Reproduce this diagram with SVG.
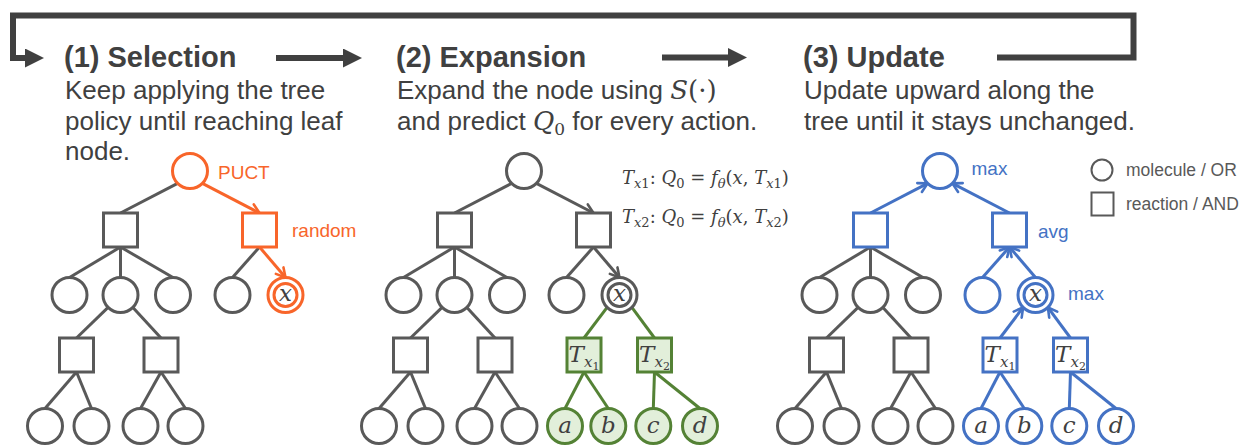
<svg xmlns="http://www.w3.org/2000/svg" width="1242" height="445" viewBox="0 0 1242 445">
<style>
.hdr{font-family:"Liberation Sans",Arial,sans-serif;font-weight:bold;font-size:29px;fill:#404040}
.desc{font-family:"Liberation Sans",Arial,sans-serif;font-size:26px;fill:#404040}
.lbl{font-family:"Liberation Sans",Arial,sans-serif;font-size:19px}
.leg{font-family:"Liberation Sans",Arial,sans-serif;font-size:17.5px;fill:#595959}
.m{font-family:"DejaVu Serif","Liberation Serif",serif}
.mi{font-family:"DejaVu Serif","Liberation Serif",serif;font-style:italic}
.nodeT{font-family:"DejaVu Serif","Liberation Serif",serif;font-style:italic;font-size:23px;text-anchor:middle;fill:#404040}
.g{fill:#fff;stroke:#595959;stroke-width:3}
.o{fill:#fff;stroke:#f8652a;stroke-width:3}
.gr{fill:#e2efda;stroke:#548235;stroke-width:3}
.b{fill:#fff;stroke:#4472c4;stroke-width:3}
.eg{stroke:#595959;stroke-width:3;fill:none}
.eo{stroke:#f8652a;stroke-width:3;fill:none}
.egr{stroke:#548235;stroke-width:3;fill:none}
.eb{stroke:#4472c4;stroke-width:3;fill:none}
.flow{stroke:#404040;stroke-width:6;fill:none}
</style>
<defs>
<marker id="ag" markerUnits="userSpaceOnUse" viewBox="0 0 14 14" refX="11" refY="7" markerWidth="14" markerHeight="14" orient="auto"><path d="M2,2 L11,7 L2,12" fill="none" stroke="#595959" stroke-width="2.6" stroke-linecap="round" stroke-linejoin="round"/></marker>
<marker id="ao" markerUnits="userSpaceOnUse" viewBox="0 0 14 14" refX="11" refY="7" markerWidth="14" markerHeight="14" orient="auto"><path d="M2,2 L11,7 L2,12" fill="none" stroke="#f8652a" stroke-width="2.6" stroke-linecap="round" stroke-linejoin="round"/></marker>
<marker id="ab" markerUnits="userSpaceOnUse" viewBox="0 0 14 14" refX="11" refY="7" markerWidth="14" markerHeight="14" orient="auto"><path d="M2,2 L11,7 L2,12" fill="none" stroke="#4472c4" stroke-width="2.6" stroke-linecap="round" stroke-linejoin="round"/></marker>
<marker id="big" markerUnits="userSpaceOnUse" viewBox="0 0 19 19" refX="0" refY="9.5" markerWidth="19" markerHeight="19" orient="auto"><path d="M0,0 L19,9.5 L0,19 Z" fill="#404040"/></marker>
</defs>

<!-- flow arrows -->
<g id="flow">
<path class="flow" d="M997,57.5 H1133.5 V15.5 H13 V58 H25" marker-end="url(#big)"/>
<path class="flow" d="M276,58 H343" marker-end="url(#big)"/>
<path class="flow" d="M662,57.5 H728" marker-end="url(#big)"/>
</g>

<!-- headings -->
<g id="step1-text">
<text class="hdr" x="64" y="67">(1) Selection</text>
<text class="desc" x="65" y="99">Keep applying the tree</text>
<text class="desc" x="65" y="129.5">policy until reaching leaf</text>
<text class="desc" x="65" y="160">node.</text>
</g>
<g id="step2-text">
<text class="hdr" x="396" y="67">(2) Expansion</text>
<text class="desc" x="397" y="99">Expand the node using <tspan class="mi">S</tspan><tspan class="m">(·)</tspan></text>
<text class="desc" x="397" y="129.5">and predict <tspan class="mi">Q</tspan><tspan class="m" font-size="17" dy="5">0</tspan><tspan dy="-5"> for every action.</tspan></text>
</g>
<g id="step3-text">
<text class="hdr" x="803" y="67">(3) Update</text>
<text class="desc" x="804" y="99">Update upward along the</text>
<text class="desc" x="804" y="129.5">tree until it stays unchanged.</text>
</g>

<!-- connectors -->
<g id="connectors">
<!-- tree 1 -->
<line class="eg" x1="177.6" y1="183.4" x2="120.5" y2="213"/>
<line class="eo" x1="202.4" y1="183.4" x2="259.5" y2="213" marker-end="url(#ao)"/>
<line class="eg" x1="120.5" y1="247" x2="69.5" y2="277.5"/>
<line class="eg" x1="120.5" y1="247" x2="120.5" y2="277.5"/>
<line class="eg" x1="120.5" y1="247" x2="173" y2="277.5"/>
<line class="eg" x1="259.5" y1="247" x2="232.5" y2="277.5"/>
<line class="eo" x1="259.5" y1="247" x2="285.5" y2="277.5" marker-end="url(#ao)"/>
<line class="eg" x1="108.1" y1="307.4" x2="76.5" y2="338"/>
<line class="eg" x1="132.9" y1="307.4" x2="161" y2="338"/>
<line class="eg" x1="76.5" y1="372" x2="45" y2="408.5"/>
<line class="eg" x1="76.5" y1="372" x2="91.5" y2="408.5"/>
<line class="eg" x1="161" y1="372" x2="140.5" y2="408.5"/>
<line class="eg" x1="161" y1="372" x2="185.5" y2="408.5"/>
<!-- tree 2 -->
<line class="eg" x1="511.6" y1="183.4" x2="454.5" y2="213"/>
<line class="eg" x1="536.4" y1="183.4" x2="593.5" y2="213" marker-end="url(#ag)"/>
<line class="eg" x1="454.5" y1="247" x2="403.5" y2="277.5"/>
<line class="eg" x1="454.5" y1="247" x2="454.5" y2="277.5"/>
<line class="eg" x1="454.5" y1="247" x2="507" y2="277.5"/>
<line class="eg" x1="593.5" y1="247" x2="566.5" y2="277.5"/>
<line class="eg" x1="593.5" y1="247" x2="619.5" y2="277.5" marker-end="url(#ag)"/>
<line class="eg" x1="442.1" y1="307.4" x2="410.5" y2="338"/>
<line class="eg" x1="466.9" y1="307.4" x2="495" y2="338"/>
<line class="eg" x1="410.5" y1="372" x2="379" y2="408.5"/>
<line class="eg" x1="410.5" y1="372" x2="425.5" y2="408.5"/>
<line class="eg" x1="495" y1="372" x2="474.5" y2="408.5"/>
<line class="eg" x1="495" y1="372" x2="519.5" y2="408.5"/>
<line class="egr" x1="607.1" y1="307.4" x2="584" y2="338"/>
<line class="egr" x1="631.9" y1="307.4" x2="654.5" y2="338"/>
<line class="egr" x1="584" y1="372" x2="565" y2="408.5"/>
<line class="egr" x1="584" y1="372" x2="608.3" y2="408.5"/>
<line class="egr" x1="654.5" y1="372" x2="653.3" y2="408.5"/>
<line class="egr" x1="654.5" y1="372" x2="700" y2="408.5"/>
<!-- tree 3 -->
<line class="eb" x1="870.5" y1="213" x2="927.6" y2="183.4" marker-end="url(#ab)"/>
<line class="eb" x1="1009.5" y1="213" x2="952.4" y2="183.4" marker-end="url(#ab)"/>
<line class="eg" x1="870.5" y1="247" x2="819.5" y2="277.5"/>
<line class="eg" x1="870.5" y1="247" x2="870.5" y2="277.5"/>
<line class="eg" x1="870.5" y1="247" x2="923" y2="277.5"/>
<line class="eb" x1="982.5" y1="277.5" x2="1009.5" y2="247" marker-end="url(#ab)"/>
<line class="eb" x1="1035.5" y1="277.5" x2="1009.5" y2="247" marker-end="url(#ab)"/>
<line class="eg" x1="858.1" y1="307.4" x2="826.5" y2="338"/>
<line class="eg" x1="882.9" y1="307.4" x2="911" y2="338"/>
<line class="eg" x1="826.5" y1="372" x2="795" y2="408.5"/>
<line class="eg" x1="826.5" y1="372" x2="841.5" y2="408.5"/>
<line class="eg" x1="911" y1="372" x2="890.5" y2="408.5"/>
<line class="eg" x1="911" y1="372" x2="935.5" y2="408.5"/>
<line class="eb" x1="1000" y1="338" x2="1023.1" y2="307.4" marker-end="url(#ab)"/>
<line class="eb" x1="1070.5" y1="338" x2="1047.9" y2="307.4" marker-end="url(#ab)"/>
<line class="eb" x1="1000" y1="372" x2="981" y2="408.5"/>
<line class="eb" x1="1000" y1="372" x2="1024.3" y2="408.5"/>
<line class="eb" x1="1070.5" y1="372" x2="1069.3" y2="408.5"/>
<line class="eb" x1="1070.5" y1="372" x2="1116" y2="408.5"/>
</g>

<!-- tree 1 nodes -->
<g id="t1-root"><circle class="o" cx="190" cy="171" r="17.5"/></g>
<g id="t1-rxA"><rect class="g" x="103.5" y="213" width="34" height="34"/></g>
<g id="t1-rxB"><rect class="o" x="242.5" y="213" width="34" height="34"/></g>
<g id="t1-c1"><circle class="g" cx="69.5" cy="295" r="17.5"/></g>
<g id="t1-c2"><circle class="g" cx="120.5" cy="295" r="17.5"/></g>
<g id="t1-c3"><circle class="g" cx="173" cy="295" r="17.5"/></g>
<g id="t1-c4"><circle class="g" cx="232.5" cy="295" r="17.5"/></g>
<g id="t1-x"><circle class="o" cx="285.5" cy="295" r="17.5"/><circle class="o" cx="285.5" cy="295" r="11.5"/><text class="nodeT" x="285.5" y="301">x</text></g>
<g id="t1-s1"><rect class="g" x="59.5" y="338" width="34" height="34"/></g>
<g id="t1-s2"><rect class="g" x="144" y="338" width="34" height="34"/></g>
<g id="t1-b1"><circle class="g" cx="45" cy="426" r="17.5"/></g>
<g id="t1-b2"><circle class="g" cx="91.5" cy="426" r="17.5"/></g>
<g id="t1-b3"><circle class="g" cx="140.5" cy="426" r="17.5"/></g>
<g id="t1-b4"><circle class="g" cx="185.5" cy="426" r="17.5"/></g>
<g id="t1-labels">
<text class="lbl" x="218" y="178.5" fill="#f8652a">PUCT</text>
<text class="lbl" x="292" y="237" fill="#f8652a">random</text>
</g>

<!-- tree 2 nodes -->
<g id="t2-root"><circle class="g" cx="524" cy="171" r="17.5"/></g>
<g id="t2-rxA"><rect class="g" x="437.5" y="213" width="34" height="34"/></g>
<g id="t2-rxB"><rect class="g" x="576.5" y="213" width="34" height="34"/></g>
<g id="t2-c1"><circle class="g" cx="403.5" cy="295" r="17.5"/></g>
<g id="t2-c2"><circle class="g" cx="454.5" cy="295" r="17.5"/></g>
<g id="t2-c3"><circle class="g" cx="507" cy="295" r="17.5"/></g>
<g id="t2-c4"><circle class="g" cx="566.5" cy="295" r="17.5"/></g>
<g id="t2-x"><circle class="g" cx="619.5" cy="295" r="17.5"/><circle class="g" cx="619.5" cy="295" r="11.5"/><text class="nodeT" x="619.5" y="301">x</text></g>
<g id="t2-s1"><rect class="g" x="393.5" y="338" width="34" height="34"/></g>
<g id="t2-s2"><rect class="g" x="478" y="338" width="34" height="34"/></g>
<g id="t2-tx1"><rect class="gr" x="567" y="338" width="34" height="34"/><text class="nodeT" x="584" y="362" font-size="22">T<tspan font-size="15" dy="5">x</tspan><tspan font-style="normal" font-size="11" dy="3">1</tspan></text></g>
<g id="t2-tx2"><rect class="gr" x="637.5" y="338" width="34" height="34"/><text class="nodeT" x="654.5" y="362" font-size="22">T<tspan font-size="15" dy="5">x</tspan><tspan font-style="normal" font-size="11" dy="3">2</tspan></text></g>
<g id="t2-b1"><circle class="g" cx="379" cy="426" r="17.5"/></g>
<g id="t2-b2"><circle class="g" cx="425.5" cy="426" r="17.5"/></g>
<g id="t2-b3"><circle class="g" cx="474.5" cy="426" r="17.5"/></g>
<g id="t2-b4"><circle class="g" cx="519.5" cy="426" r="17.5"/></g>
<g id="t2-a"><circle class="gr" cx="565" cy="426" r="17.5"/><text class="nodeT" x="565" y="433" font-size="24">a</text></g>
<g id="t2-bb"><circle class="gr" cx="608.3" cy="426" r="17.5"/><text class="nodeT" x="608.3" y="433" font-size="24">b</text></g>
<g id="t2-c"><circle class="gr" cx="653.3" cy="426" r="17.5"/><text class="nodeT" x="653.3" y="433" font-size="24">c</text></g>
<g id="t2-d"><circle class="gr" cx="700" cy="426" r="17.5"/><text class="nodeT" x="700" y="433" font-size="24">d</text></g>
<g id="t2-formulas" fill="#404040" font-size="18">
<text x="622" y="184"><tspan class="mi">T</tspan><tspan class="mi" font-size="13" dy="4">x</tspan><tspan class="m" font-size="13">1</tspan><tspan class="m" dy="-4">: </tspan><tspan class="mi">Q</tspan><tspan class="m" font-size="13" dy="4">0</tspan><tspan class="m" dy="-4"> = </tspan><tspan class="mi">f</tspan><tspan class="mi" font-size="13" dy="4">θ</tspan><tspan class="m" dy="-4">(</tspan><tspan class="mi">x</tspan><tspan class="m">, </tspan><tspan class="mi">T</tspan><tspan class="mi" font-size="13" dy="4">x</tspan><tspan class="m" font-size="13">1</tspan><tspan class="m" dy="-4">)</tspan></text>
<text x="622" y="223"><tspan class="mi">T</tspan><tspan class="mi" font-size="13" dy="4">x</tspan><tspan class="m" font-size="13">2</tspan><tspan class="m" dy="-4">: </tspan><tspan class="mi">Q</tspan><tspan class="m" font-size="13" dy="4">0</tspan><tspan class="m" dy="-4"> = </tspan><tspan class="mi">f</tspan><tspan class="mi" font-size="13" dy="4">θ</tspan><tspan class="m" dy="-4">(</tspan><tspan class="mi">x</tspan><tspan class="m">, </tspan><tspan class="mi">T</tspan><tspan class="mi" font-size="13" dy="4">x</tspan><tspan class="m" font-size="13">2</tspan><tspan class="m" dy="-4">)</tspan></text>
</g>

<!-- tree 3 nodes -->
<g id="t3-root"><circle class="b" cx="940" cy="171" r="17.5"/></g>
<g id="t3-rxA"><rect class="b" x="853.5" y="213" width="34" height="34"/></g>
<g id="t3-rxB"><rect class="b" x="992.5" y="213" width="34" height="34"/></g>
<g id="t3-c1"><circle class="g" cx="819.5" cy="295" r="17.5"/></g>
<g id="t3-c2"><circle class="g" cx="870.5" cy="295" r="17.5"/></g>
<g id="t3-c3"><circle class="g" cx="923" cy="295" r="17.5"/></g>
<g id="t3-c4"><circle class="b" cx="982.5" cy="295" r="17.5"/></g>
<g id="t3-x"><circle class="b" cx="1035.5" cy="295" r="17.5"/><circle class="b" cx="1035.5" cy="295" r="11.5"/><text class="nodeT" x="1035.5" y="301">x</text></g>
<g id="t3-s1"><rect class="g" x="809.5" y="338" width="34" height="34"/></g>
<g id="t3-s2"><rect class="g" x="894" y="338" width="34" height="34"/></g>
<g id="t3-tx1"><rect class="b" x="983" y="338" width="34" height="34"/><text class="nodeT" x="1000" y="362" font-size="22">T<tspan font-size="15" dy="5">x</tspan><tspan font-style="normal" font-size="11" dy="3">1</tspan></text></g>
<g id="t3-tx2"><rect class="b" x="1053.5" y="338" width="34" height="34"/><text class="nodeT" x="1070.5" y="362" font-size="22">T<tspan font-size="15" dy="5">x</tspan><tspan font-style="normal" font-size="11" dy="3">2</tspan></text></g>
<g id="t3-b1"><circle class="g" cx="795" cy="426" r="17.5"/></g>
<g id="t3-b2"><circle class="g" cx="841.5" cy="426" r="17.5"/></g>
<g id="t3-b3"><circle class="g" cx="890.5" cy="426" r="17.5"/></g>
<g id="t3-b4"><circle class="g" cx="935.5" cy="426" r="17.5"/></g>
<g id="t3-a"><circle class="b" cx="981" cy="426" r="17.5"/><text class="nodeT" x="981" y="433" font-size="24">a</text></g>
<g id="t3-bb"><circle class="b" cx="1024.3" cy="426" r="17.5"/><text class="nodeT" x="1024.3" y="433" font-size="24">b</text></g>
<g id="t3-c"><circle class="b" cx="1069.3" cy="426" r="17.5"/><text class="nodeT" x="1069.3" y="433" font-size="24">c</text></g>
<g id="t3-d"><circle class="b" cx="1116" cy="426" r="17.5"/><text class="nodeT" x="1116" y="433" font-size="24">d</text></g>
<g id="t3-labels" fill="#4472c4">
<text class="lbl" x="971.5" y="175">max</text>
<text class="lbl" x="1038" y="238">avg</text>
<text class="lbl" x="1068" y="300">max</text>
</g>

<!-- legend -->
<g id="legend">
<circle cx="1102" cy="170" r="10.5" fill="#fff" stroke="#595959" stroke-width="2"/>
<text class="leg" x="1126" y="176">molecule / OR</text>
<rect x="1091.5" y="192.5" width="22" height="23" fill="#fff" stroke="#595959" stroke-width="2"/>
<text class="leg" x="1126" y="209.5">reaction / AND</text>
</g>
</svg>
